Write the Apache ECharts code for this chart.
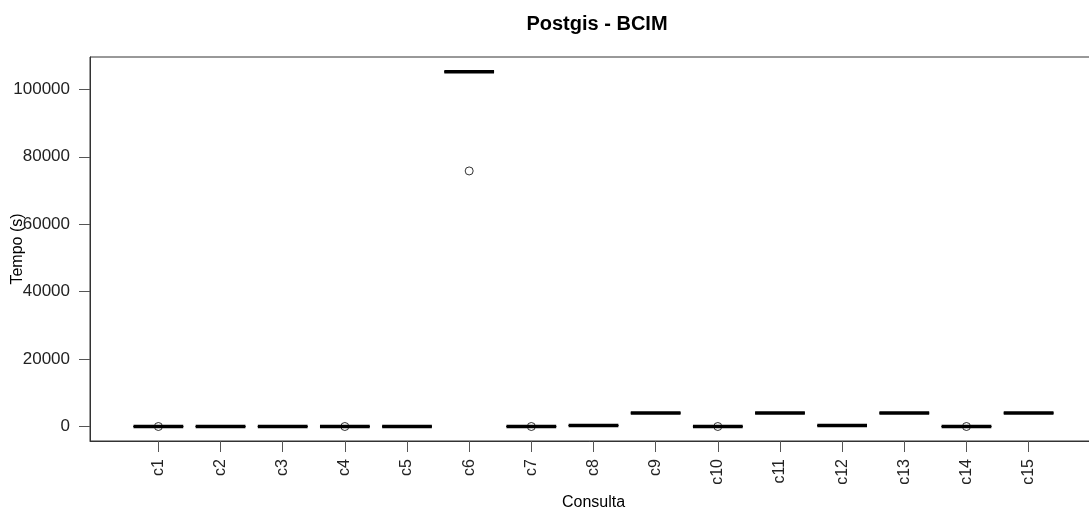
<!DOCTYPE html>
<html>
<head>
<meta charset="utf-8">
<script src="https://cdn.jsdelivr.net/npm/echarts@6/dist/echarts.min.js"></script>
<style>
	html, body { margin: 0; padding: 0; background: #fff; }
	#chart { width: 1089px; height: 508px; }
</style>
</head>
<body>
<div id="chart"></div>
<script>
// consultas c1..c15
var categories = ['c1','c2','c3','c4','c5','c6','c7','c8','c9','c10','c11','c12','c13','c14','c15'];
// estatisticas da caixa (tempo em s)
var boxMin    = [0, 0, 0, 0, 0, 105200, 0, 300, 4000, 0, 4000, 300, 4000, 0, 4000];
var boxQ1     = [0, 0, 0, 0, 0, 105200, 0, 300, 4000, 0, 4000, 300, 4000, 0, 4000];
var boxMedian = [0, 0, 0, 0, 0, 105200, 0, 300, 4000, 0, 4000, 300, 4000, 0, 4000];
var boxQ3     = [0, 0, 0, 0, 0, 105200, 0, 300, 4000, 0, 4000, 300, 4000, 0, 4000];
var boxMax    = [0, 0, 0, 0, 0, 105200, 0, 300, 4000, 0, 4000, 300, 4000, 0, 4000];
// outliers: [consulta, tempo]
var outliers = [[1, 0], [4, 0], [6, 75800], [7, 0], [10, 0], [14, 0]];
var yTicks = [0, 20000, 40000, 60000, 80000, 100000];
var xTicks = [1,2,3,4,5,6,7,8,9,10,11,12,13,14,15];

var FONT = '"Liberation Sans", Arial, sans-serif';

var boxData = [];
for (var i = 0; i < categories.length; i++) {
	boxData.push([i + 1, boxMin[i], boxQ1[i], boxMedian[i], boxQ3[i], boxMax[i]]);
}

function renderBox(params, api) {
	var x = api.value(0);
	var half = api.size([0.8, 0])[0] / 2;
	var pMin = api.coord([x, api.value(1)]);
	var pQ1 = api.coord([x, api.value(2)]);
	var pMed = api.coord([x, api.value(3)]);
	var pQ3 = api.coord([x, api.value(4)]);
	var pMax = api.coord([x, api.value(5)]);
	var cx = pMed[0];
	var lineStyle = { stroke: '#000', lineWidth: 1, fill: null };
	return {
		type: 'group',
		children: [
			{ type: 'line', shape: { x1: cx, y1: pQ1[1], x2: cx, y2: pMin[1] }, style: { stroke: '#000', lineWidth: 1, lineDash: [4, 3] } },
			{ type: 'line', shape: { x1: cx, y1: pQ3[1], x2: cx, y2: pMax[1] }, style: { stroke: '#000', lineWidth: 1, lineDash: [4, 3] } },
			{ type: 'line', shape: { x1: cx - half / 2, y1: pMin[1], x2: cx + half / 2, y2: pMin[1] }, style: lineStyle },
			{ type: 'line', shape: { x1: cx - half / 2, y1: pMax[1], x2: cx + half / 2, y2: pMax[1] }, style: lineStyle },
			{ type: 'rect', shape: { x: cx - half, y: pQ3[1], width: half * 2, height: pQ1[1] - pQ3[1] }, style: lineStyle },
			{ type: 'line', shape: { x1: cx - half, y1: pMed[1], x2: cx + half, y2: pMed[1] }, style: { stroke: '#000', lineWidth: 3.5 } }
		]
	};
}

var chart = echarts.init(document.getElementById('chart'));
chart.setOption({
	animation: false,
	backgroundColor: '#fff',
	title: {
		text: 'Postgis - BCIM',
		left: 592,
		textAlign: 'center',
		top: 9,
		textStyle: { fontFamily: FONT, fontSize: 20, fontWeight: 'bold', color: '#000' }
	},
	grid: {
		left: 90,
		right: -8,
		top: 57,
		bottom: 67,
		containLabel: false,
		outerBoundsMode: 'none',
		show: true,
		borderColor: '#333',
		borderWidth: 1
	},
	xAxis: {
		type: 'value',
		min: -0.1,
		max: 16.1,
		name: 'Consulta',
		nameLocation: 'middle',
		nameGap: 54,
		nameMoveOverlap: false,
		nameTextStyle: { fontFamily: FONT, fontSize: 16, color: '#000', verticalAlign: 'top' },
		axisLine: { show: true, onZero: false, lineStyle: { color: '#333' } },
		axisTick: { show: true, length: 11, customValues: xTicks, lineStyle: { color: '#555' } },
		axisLabel: {
			customValues: xTicks,
			rotate: 90,
			margin: 18,
			fontFamily: FONT,
			fontSize: 16,
			color: '#222',
			formatter: function (v) { return categories[Math.round(v) - 1] || ''; }
		},
		splitLine: { show: false }
	},
	yAxis: {
		type: 'value',
		min: -4300,
		max: 109600,
		name: 'Tempo (s)',
		nameLocation: 'middle',
		nameGap: 64,
		nameRotate: 90,
		nameMoveOverlap: false,
		nameTextStyle: { fontFamily: FONT, fontSize: 16, color: '#000' },
		axisLine: { show: true, onZero: false, lineStyle: { color: '#333' } },
		axisTick: { show: true, length: 11, customValues: yTicks, lineStyle: { color: '#555' } },
		axisLabel: {
			customValues: yTicks,
			margin: 20,
			fontFamily: FONT,
			fontSize: 17,
			color: '#222',
			formatter: function (v) { return String(v); }
		},
		splitLine: { show: false }
	},
	series: [
		{
			type: 'custom',
			renderItem: renderBox,
			encode: { x: 0, y: [1, 2, 3, 4, 5] },
			data: boxData,
			z: 2
		},
		{
			type: 'scatter',
			symbol: 'circle',
			symbolSize: 8,
			itemStyle: { color: 'rgba(0,0,0,0)', borderColor: '#000', borderWidth: 1 },
			emphasis: { disabled: true },
			data: outliers,
			z: 3
		}
	]
});
</script>
</body>
</html>
